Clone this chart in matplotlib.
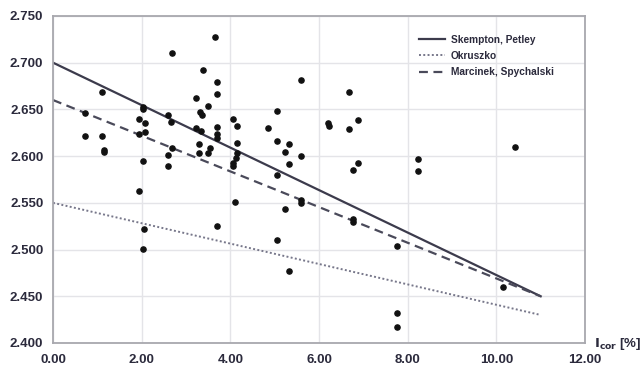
#%%
# 导入 pyplot 模块
from matplotlib import pyplot as plt

# 测点数据 (I_cor [%], 密度)
icor = [0.71, 0.72, 1.10, 1.10, 1.16, 1.14, 2.03, 2.04, 1.93, 2.08,
        2.08, 1.95, 2.02, 1.93, 2.06, 2.02, 2.68, 2.60, 2.67, 2.68,
        2.60, 2.60, 3.22, 3.38, 3.50, 3.32, 3.37, 3.22, 3.33, 3.30,
        3.30, 3.54, 3.50, 3.65, 3.69, 3.69, 3.69, 3.69, 3.69, 3.69,
        4.05, 4.14, 4.15, 4.15, 4.12, 4.07, 4.05, 4.10, 4.86, 5.05,
        5.05, 5.05, 5.05, 5.23, 5.23, 5.33, 5.33, 5.32, 5.59, 5.59,
        5.59, 5.59, 6.21, 6.23, 6.68, 6.68, 6.89, 6.89, 6.76, 6.76,
        6.76, 7.75, 7.75, 7.75, 8.24, 8.24, 10.14, 10.41]
dens = [2.646, 2.622, 2.669, 2.621, 2.607, 2.604, 2.653, 2.650, 2.640, 2.635,
        2.626, 2.624, 2.595, 2.563, 2.522, 2.501, 2.710, 2.644, 2.636, 2.609,
        2.601, 2.589, 2.662, 2.692, 2.654, 2.647, 2.644, 2.630, 2.627, 2.613,
        2.603, 2.609, 2.603, 2.727, 2.679, 2.667, 2.631, 2.624, 2.619, 2.525,
        2.640, 2.632, 2.614, 2.603, 2.598, 2.593, 2.589, 2.551, 2.630, 2.648,
        2.616, 2.580, 2.510, 2.604, 2.543, 2.613, 2.592, 2.477, 2.681, 2.600,
        2.553, 2.550, 2.635, 2.632, 2.669, 2.629, 2.639, 2.593, 2.585, 2.533,
        2.529, 2.504, 2.432, 2.417, 2.597, 2.584, 2.460, 2.610]

# 三条经验关系线 (起点, 终点)
line_x = [0.0, 11.0]
skempton = [2.700, 2.450]
okruszko = [2.550, 2.430]
marcinek = [2.660, 2.450]

xticks = [0, 2, 4, 6, 8, 10, 12]
yticks = [2.40, 2.45, 2.50, 2.55, 2.60, 2.65, 2.70, 2.75]

txt = '#2b2a3c'
plt.rcParams['font.family'] = ['Liberation Sans', 'DejaVu Sans']

fig = plt.figure(figsize=(6.42, 3.65), dpi=100)
ax = fig.add_axes([0.0826, 0.0603, 0.8286, 0.896])

# 画线
ax.plot(line_x, skempton, color='#3c3b4c', lw=1.6, ls='-', label='Skempton, Petley')
ax.plot(line_x, okruszko, color='#77778a', lw=1.4, ls=(0, (1, 1.2)), label='Okruszko')
ax.plot(line_x, marcinek, color='#4a4a5a', lw=1.6, ls=(0, (4, 2.5)), label='Marcinek, Spychalski')

# 画点
ax.scatter(icor, dens, s=14, color='#111111', zorder=3)

ax.set_xlim(0, 12)
ax.set_ylim(2.40, 2.75)
ax.set_xticks(xticks)
ax.set_yticks(yticks)
ax.set_xticklabels(['%.2f' % v for v in xticks])
ax.set_yticklabels(['%.3f' % v for v in yticks])
ax.tick_params(length=0, labelsize=9.5, labelcolor=txt)
ax.tick_params(axis='x', pad=8)
ax.tick_params(axis='y', pad=7)
for lab in ax.get_xticklabels() + ax.get_yticklabels():
    lab.set_fontweight('bold')

ax.grid(True, color='#e4e4e8', lw=1.0)
ax.set_axisbelow(True)
for sp in ax.spines.values():
    sp.set_color('#a8a8ae')
    sp.set_linewidth(1.3)

leg = ax.legend(loc='upper left', bbox_to_anchor=(0.67, 0.97), frameon=False,
                fontsize=7.3, handlelength=2.6, handletextpad=0.6,
                labelspacing=0.6, labelcolor=txt)
for t in leg.get_texts():
    t.set_fontweight('semibold')

# 轴标签
fig.text(0.925, 0.058, r'$\mathbf{I_{cor}}$ [%]', fontsize=9.5, color=txt,
         fontweight='bold', va='center')

fig.savefig('out.png', dpi=100)
